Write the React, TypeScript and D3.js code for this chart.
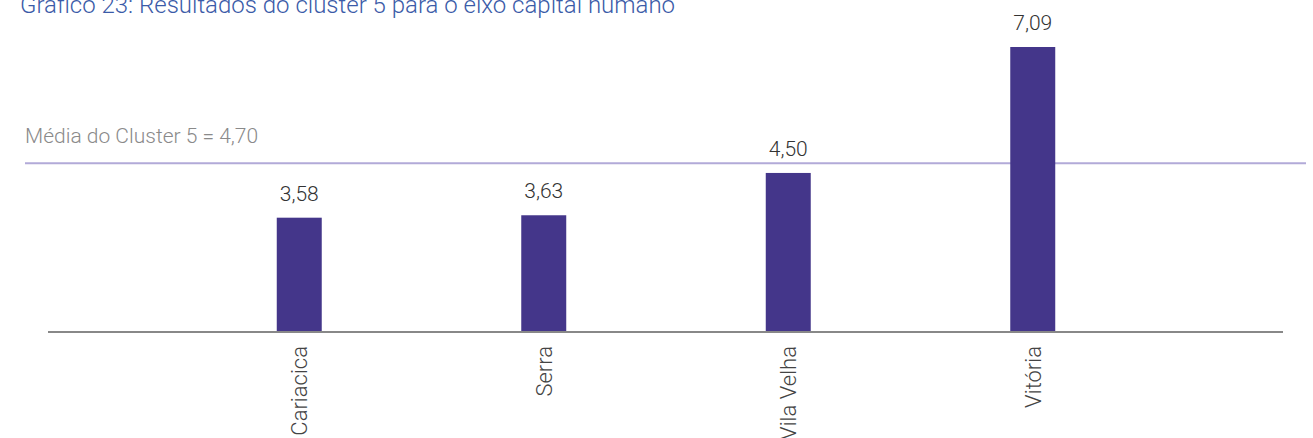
import { useEffect, useRef } from 'react'
import * as d3 from 'd3'

const cities = ['Cariacica', 'Serra', 'Vila Velha', 'Vitória']
const scores = [3.58, 3.63, 4.5, 7.09]
const clusterMean = 4.7
const title = 'Gráfico 23: Resultados do cluster 5 para o eixo capital humano'
const meanLabel = 'Média do Cluster 5 = 4,70'

const fmt = (v: number) => v.toFixed(2).replace('.', ',')

const App = () => {
	const svgRef = useRef<SVGSVGElement>(null)

	useEffect(() => {
		document.body.style.margin = '0'
		const width = 1313
		const height = 438
		const baseY = 331

		const svg = d3.select(svgRef.current)
		svg.selectAll('*').remove()
		svg.attr('width', width).attr('height', height)

		// Scales
		const x = d3
			.scaleBand()
			.domain(cities)
			.range([177, 1155])
			.paddingInner(0.816)
			.paddingOuter(0.408)

		const y = d3.scaleLinear().domain([1.25, 7.09]).range([baseY, 47])

		// Title (cut off at the top in the original)
		svg
			.append('text')
			.attr('x', 20)
			.attr('y', 13)
			.text(title)
			.style('font-family', 'Roboto')
			.style('font-weight', 300)
			.style('font-size', '24px')
			.style('fill', '#3b5ba8')

		// Mean line
		svg
			.append('line')
			.attr('x1', 25)
			.attr('x2', 1306)
			.attr('y1', y(clusterMean))
			.attr('y2', y(clusterMean))
			.attr('stroke', '#b2aad8')
			.attr('stroke-width', 2)

		svg
			.append('text')
			.attr('x', 25)
			.attr('y', y(clusterMean) - 20)
			.text(meanLabel)
			.style('font-family', 'Roboto')
			.style('font-weight', 300)
			.style('font-size', '21px')
			.style('fill', '#8a8a8a')

		// Bars
		svg
			.append('g')
			.selectAll('rect')
			.data(cities)
			.join('rect')
			.attr('x', (d) => x(d))
			.attr('y', (d, i) => y(scores[i]))
			.attr('width', x.bandwidth())
			.attr('height', (d, i) => baseY - y(scores[i]))
			.attr('fill', '#44368a')

		// Value labels
		svg
			.append('g')
			.selectAll('text')
			.data(cities)
			.join('text')
			.attr('x', (d) => x(d) + x.bandwidth() / 2)
			.attr('y', (d, i) => y(scores[i]) - 17)
			.attr('text-anchor', 'middle')
			.text((d, i) => fmt(scores[i]))
			.style('font-family', 'Roboto')
			.style('font-weight', 300)
			.style('font-size', '21px')
			.style('fill', '#333')

		// Baseline
		svg
			.append('line')
			.attr('x1', 48)
			.attr('x2', 1283)
			.attr('y1', baseY + 1)
			.attr('y2', baseY + 1)
			.attr('stroke', '#888')
			.attr('stroke-width', 2)

		// Category labels
		svg
			.append('g')
			.selectAll('text')
			.data(cities)
			.join('text')
			.attr('transform', (d) => `translate(${x(d) + x.bandwidth() / 2 + 8},346) rotate(-90)`)
			.attr('text-anchor', 'end')
			.text((d) => d)
			.style('font-family', 'Roboto')
			.style('font-weight', 300)
			.style('font-size', '22px')
			.style('fill', '#444')
	}, [])

	return <svg ref={svgRef}></svg>
}

export default App
